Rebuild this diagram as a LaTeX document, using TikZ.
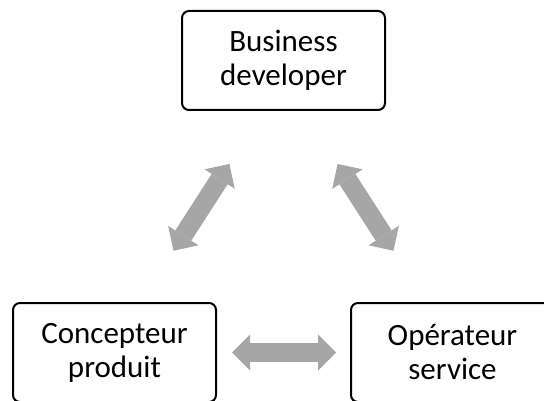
\documentclass[tikz,border=0pt]{standalone}
\usepackage{fontspec}
\setmainfont{Carlito}
\usetikzlibrary{arrows.meta}
\definecolor{linkgray}{HTML}{A6A6A6}
\tikzset{
  role/.style={draw, line width=2pt, rounded corners=7pt, minimum width=203pt,
    minimum height=99pt, align=center, font=\fontsize{31}{34}\selectfont},
  link/.style={linkgray, line width=19pt,
    {Triangle[width=36pt,length=18pt,line width=0pt]}-{Triangle[width=36pt,length=18pt,line width=0pt]}}
}
\begin{document}
\begin{tikzpicture}[x=1pt,y=-1pt]
\useasboundingbox (0,0) rectangle (544,401);
\clip (0,0) rectangle (544,401);

\node[role] (dev) at (283.5,60.5) {Business\\developer};
\node[role] (concept) at (114.5,352.5) {Concepteur\\produit};
\node[role] (ops) at (452.5,352.5) {Opérateur\\service};

\draw[link, shorten <=15pt, shorten >=14pt] (concept.east) -- (ops.west);
\draw[link, shorten <=61pt, shorten >=63pt] ([xshift=26pt]concept.north) -- ([xshift=-20pt]dev.south);
\draw[link, shorten <=61pt, shorten >=63pt] ([xshift=-26pt]ops.north) -- ([xshift=20pt]dev.south);
\end{tikzpicture}
\end{document}
